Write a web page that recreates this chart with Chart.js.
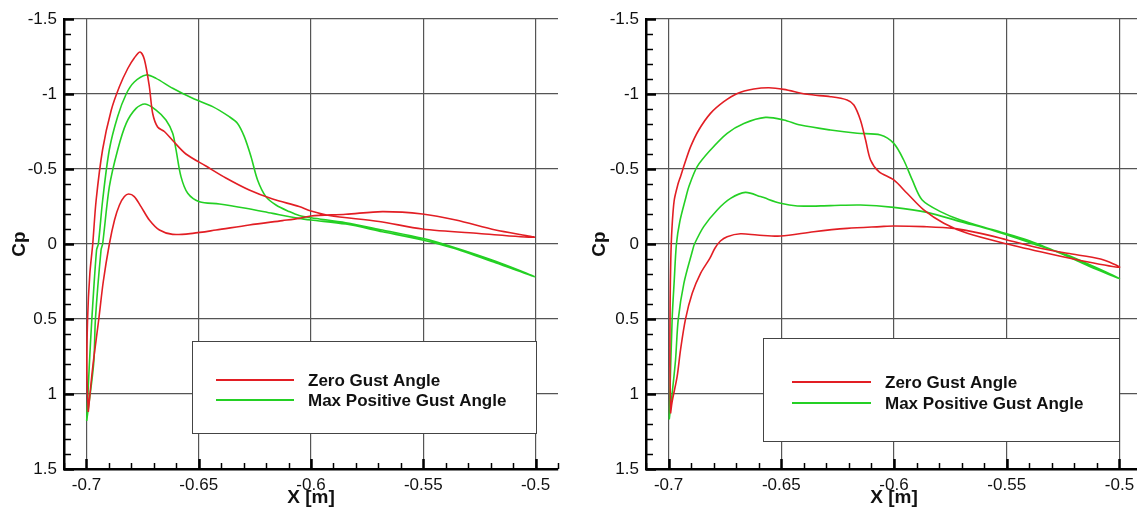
<!DOCTYPE html>
<html>
<head>
<meta charset="utf-8">
<script src="https://cdn.jsdelivr.net/npm/chart.js@4"></script>
<style>
  html, body { margin: 0; padding: 0; overflow: hidden; background: #fff; }
  .panel { position: absolute; top: 0; height: 511px; }
</style>
</head>
<body>
<div class="panel" style="left:0;width:568px"><canvas id="leftChart" width="568" height="511"></canvas></div>
<div class="panel" style="left:580px;width:570px"><canvas id="rightChart" width="570" height="511"></canvas></div>
<script>
// Axis ticks and legend labels
const xTicks = [-0.7, -0.65, -0.6, -0.55, -0.5];
const cpTicks = [-1.5, -1, -0.5, 0, 0.5, 1, 1.5];
const seriesLabels = ['Zero Gust Angle', 'Max Positive Gust Angle'];

// Left panel, zero gust: upper surface LE -> TE, then lower surface TE -> LE
const leftZeroX = [-0.6992, -0.6998, -0.6995, -0.6985, -0.6972, -0.6957, -0.6928, -0.6890, -0.6853, -0.6816, -0.6787, -0.6761, -0.6742, -0.6720, -0.6705, -0.6683, -0.6653, -0.6616, -0.6557, -0.6468, -0.6379, -0.6275, -0.6171, -0.6053, -0.6000, -0.5919, -0.5697, -0.5504, -0.5252, -0.5005,
  -0.5178, -0.5355, -0.5504, -0.5682, -0.5845, -0.6000, -0.6053, -0.6127, -0.6275, -0.6423, -0.6527, -0.6616, -0.6675, -0.6720, -0.6757, -0.6787, -0.6812, -0.6831, -0.6853, -0.6875, -0.6898, -0.6925, -0.6945, -0.6972, -0.6992];
const leftZeroCp = [1.12, 0.85, 0.50, 0.20, 0.00, -0.29, -0.63, -0.89, -1.05, -1.17, -1.24, -1.28, -1.23, -1.05, -0.87, -0.78, -0.75, -0.69, -0.60, -0.52, -0.44, -0.36, -0.30, -0.25, -0.22, -0.19, -0.15, -0.10, -0.07, -0.045,
  -0.093, -0.16, -0.20, -0.216, -0.198, -0.187, -0.171, -0.156, -0.127, -0.093, -0.071, -0.064, -0.093, -0.16, -0.249, -0.316, -0.333, -0.316, -0.26, -0.16, 0.0, 0.25, 0.50, 0.82, 1.12];

// Left panel, max positive gust
const leftMaxX = [-0.6999, -0.6987, -0.6976, -0.6955, -0.6947, -0.6928, -0.6898, -0.6861, -0.6823, -0.6787, -0.6734, -0.6690, -0.6616, -0.6527, -0.6438, -0.6364, -0.6327, -0.6297, -0.6267, -0.6238, -0.6201, -0.6156, -0.6097, -0.6053, -0.6000, -0.5845, -0.5682, -0.5504, -0.5372, -0.5178, -0.5003,
  -0.5178, -0.5372, -0.5504, -0.5682, -0.5845, -0.6000, -0.6053, -0.6171, -0.6290, -0.6408, -0.6497, -0.6549, -0.6579, -0.6601, -0.6616, -0.6646, -0.6690, -0.6739, -0.6779, -0.6823, -0.6861, -0.6898, -0.6928, -0.6935, -0.6960, -0.6968, -0.6999];
const leftMaxCp = [1.18, 0.80, 0.50, 0.04, 0.0, -0.29, -0.63, -0.85, -1.00, -1.08, -1.127, -1.104, -1.038, -0.971, -0.916, -0.849, -0.804, -0.716, -0.582, -0.427, -0.316, -0.26, -0.216, -0.19, -0.175, -0.142, -0.093, -0.038, 0.018, 0.115, 0.218,
  0.125, 0.025, -0.027, -0.082, -0.133, -0.16, -0.171, -0.204, -0.238, -0.267, -0.282, -0.338, -0.449, -0.627, -0.738, -0.827, -0.893, -0.933, -0.904, -0.804, -0.627, -0.382, 0.0, 0.04, 0.50, 0.80, 1.18];

// Right panel, zero gust
const rightZeroX = [-0.6991, -0.6994, -0.6993, -0.6990, -0.6985, -0.6975, -0.6958, -0.6947, -0.6928, -0.6902, -0.6866, -0.6814, -0.6755, -0.6695, -0.6622, -0.6555, -0.6489, -0.6385, -0.6282, -0.6208, -0.6178, -0.6149, -0.6126, -0.6104, -0.6067, -0.6001, -0.5942, -0.5868, -0.5779, -0.5675, -0.5498, -0.5321, -0.5173, -0.5000,
  -0.5084, -0.5232, -0.5380, -0.5498, -0.5616, -0.5735, -0.5868, -0.6001, -0.6060, -0.6208, -0.6356, -0.6503, -0.6607, -0.6681, -0.6740, -0.6770, -0.6795, -0.6817, -0.6858, -0.6895, -0.6925, -0.6947, -0.6962, -0.6984, -0.6991];
const rightZeroCp = [1.13, 0.80, 0.40, 0.10, -0.10, -0.29, -0.40, -0.449, -0.538, -0.649, -0.76, -0.871, -0.949, -1.004, -1.033, -1.042, -1.031, -0.998, -0.982, -0.96, -0.927, -0.827, -0.693, -0.56, -0.482, -0.427, -0.338, -0.227, -0.138, -0.071, 0.0, 0.062, 0.11, 0.155,
  0.10, 0.062, 0.018, -0.027, -0.071, -0.104, -0.116, -0.12, -0.116, -0.104, -0.082, -0.053, -0.06, -0.068, -0.049, -0.02, 0.03, 0.096, 0.196, 0.329, 0.502, 0.707, 0.884, 1.05, 1.13];

// Right panel, max positive gust
const rightMaxX = [-0.6997, -0.6994, -0.6984, -0.6975, -0.6965, -0.6950, -0.6925, -0.6910, -0.6873, -0.6814, -0.6740, -0.6666, -0.6570, -0.6489, -0.6415, -0.6282, -0.6163, -0.6060, -0.6001, -0.5957, -0.5919, -0.5875, -0.5794, -0.5705, -0.5557, -0.5409, -0.5262, -0.5114, -0.5000,
  -0.5114, -0.5232, -0.5380, -0.5557, -0.5705, -0.5853, -0.6001, -0.6149, -0.6282, -0.6429, -0.6503, -0.6592, -0.6659, -0.6725, -0.6784, -0.6844, -0.6885, -0.6893, -0.6932, -0.6957, -0.6969, -0.6984, -0.6997];
const rightMaxCp = [1.17, 1.00, 0.50, 0.25, 0.0, -0.15, -0.30, -0.382, -0.516, -0.627, -0.738, -0.804, -0.844, -0.827, -0.793, -0.76, -0.738, -0.727, -0.671, -0.56, -0.427, -0.293, -0.216, -0.16, -0.093, -0.027, 0.062, 0.162, 0.23,
  0.15, 0.073, 0.0, -0.089, -0.149, -0.211, -0.244, -0.26, -0.256, -0.253, -0.271, -0.316, -0.344, -0.304, -0.227, -0.116, 0.0, 0.04, 0.262, 0.502, 0.773, 0.996, 1.17];

const RED = 'rgb(226,30,36)';
const GREEN = 'rgb(36,208,36)';
const FONT = "'Liberation Sans', Arial, sans-serif";

function fmt(v) {
    if (Math.abs(v) < 1e-9) return '0';
    return String(+v.toFixed(2));
}

// Draws the minor/major tick marks inside the axes and the boxed legend
const decorations = {
    id: 'decorations',
    afterDraw(chart, args, opts) {
        const ctx = chart.ctx;
        const area = chart.chartArea;
        const xs = chart.scales.x;
        const ys = chart.scales.y;
        ctx.save();
        ctx.strokeStyle = '#000';
        // y ticks every 0.1
        for (let i = -15; i <= 15; i++) {
            const py = Math.round(ys.getPixelForValue(i / 10)) + 0.5;
            const major = i % 5 === 0;
            ctx.lineWidth = major ? 2.5 : 1.5;
            ctx.beginPath();
            ctx.moveTo(area.left, py);
            ctx.lineTo(area.left + (major ? 10 : 7), py);
            ctx.stroke();
        }
        // x ticks every 0.01
        for (let i = -71; i <= -49; i++) {
            const px = Math.round(xs.getPixelForValue(i / 100)) + 0.5;
            const major = i % 5 === 0;
            ctx.lineWidth = major ? 2.5 : 1.5;
            ctx.beginPath();
            ctx.moveTo(px, area.bottom);
            ctx.lineTo(px, area.bottom - (major ? 10 : 6));
            ctx.stroke();
        }
        // legend box
        const b = opts.box;
        ctx.fillStyle = '#fff';
        ctx.fillRect(b.x, b.y, b.w, b.h);
        ctx.strokeStyle = '#444';
        ctx.lineWidth = 1;
        ctx.strokeRect(b.x + 0.5, b.y + 0.5, b.w, b.h);
        ctx.font = 'bold 17px ' + FONT;
        ctx.textBaseline = 'middle';
        ctx.fillStyle = '#111';
        chart.data.datasets.forEach((ds, i) => {
            const ly = b.y + b.row0 + i * b.rowGap;
            ctx.strokeStyle = ds.borderColor;
            ctx.lineWidth = 2;
            ctx.beginPath();
            ctx.moveTo(b.x + b.lineStart, ly);
            ctx.lineTo(b.x + b.lineStart + b.lineLen, ly);
            ctx.stroke();
            ctx.fillText(ds.label, b.x + b.textStart, ly + 1);
        });
        ctx.restore();
    }
};

function buildChart(id, zeroX, zeroCp, maxX, maxCp, axisWidth, padRight, box) {
    const toPts = (xs, ys) => xs.map((x, i) => ({ x: x, y: ys[i] }));
    const lineStyle = { showLine: true, pointRadius: 0, borderWidth: 1.6, fill: false, tension: 0.3 };
    return new Chart(document.getElementById(id), {
        type: 'scatter',
        data: {
            datasets: [
                Object.assign({ label: seriesLabels[0], data: toPts(zeroX, zeroCp), borderColor: RED }, lineStyle),
                Object.assign({ label: seriesLabels[1], data: toPts(maxX, maxCp), borderColor: GREEN }, lineStyle)
            ]
        },
        options: {
            responsive: false,
            animation: false,
            layout: { padding: { top: 19, right: padRight, left: 0, bottom: 0 } },
            plugins: {
                legend: { display: false },
                tooltip: { enabled: false },
                decorations: { box: box }
            },
            scales: {
                x: {
                    type: 'linear',
                    min: -0.71,
                    max: -0.49,
                    afterBuildTicks: s => { s.ticks = xTicks.map(v => ({ value: v })); },
                    afterFit: s => { s.height = 42; },
                    grid: { color: '#555', lineWidth: 1.2, drawTicks: false },
                    border: { display: true, color: '#000', width: 2.5 },
                    ticks: {
                        padding: 6,
                        color: '#111',
                        font: { family: FONT, size: 17 },
                        maxRotation: 0,
                        callback: v => fmt(v)
                    },
                    title: {
                        display: true,
                        text: 'X [m]',
                        color: '#111',
                        font: { family: FONT, size: 19, weight: 'bold' },
                        padding: { top: 0, bottom: 2 }
                    }
                },
                y: {
                    type: 'linear',
                    min: -1.5,
                    max: 1.5,
                    reverse: true,
                    afterBuildTicks: s => { s.ticks = cpTicks.map(v => ({ value: v })); },
                    afterFit: s => { s.width = axisWidth; },
                    grid: { color: '#555', lineWidth: 1.2, drawTicks: false },
                    border: { display: true, color: '#000', width: 2.5 },
                    ticks: {
                        padding: 7,
                        color: '#111',
                        font: { family: FONT, size: 17 },
                        callback: v => fmt(v)
                    },
                    title: {
                        display: true,
                        text: 'Cp',
                        color: '#111',
                        font: { family: FONT, size: 19, weight: 'bold' },
                        padding: { top: 8, bottom: 0 }
                    }
                }
            }
        },
        plugins: [decorations]
    });
}

buildChart('leftChart', leftZeroX, leftZeroCp, leftMaxX, leftMaxCp, 64, 10,
    { x: 192, y: 341, w: 344, h: 92, row0: 39, rowGap: 20, lineStart: 24, lineLen: 78, textStart: 116 });
buildChart('rightChart', rightZeroX, rightZeroCp, rightMaxX, rightMaxCp, 66, 8,
    { x: 183, y: 338, w: 356, h: 103, row0: 44, rowGap: 21, lineStart: 29, lineLen: 79, textStart: 122 });
</script>
</body>
</html>
